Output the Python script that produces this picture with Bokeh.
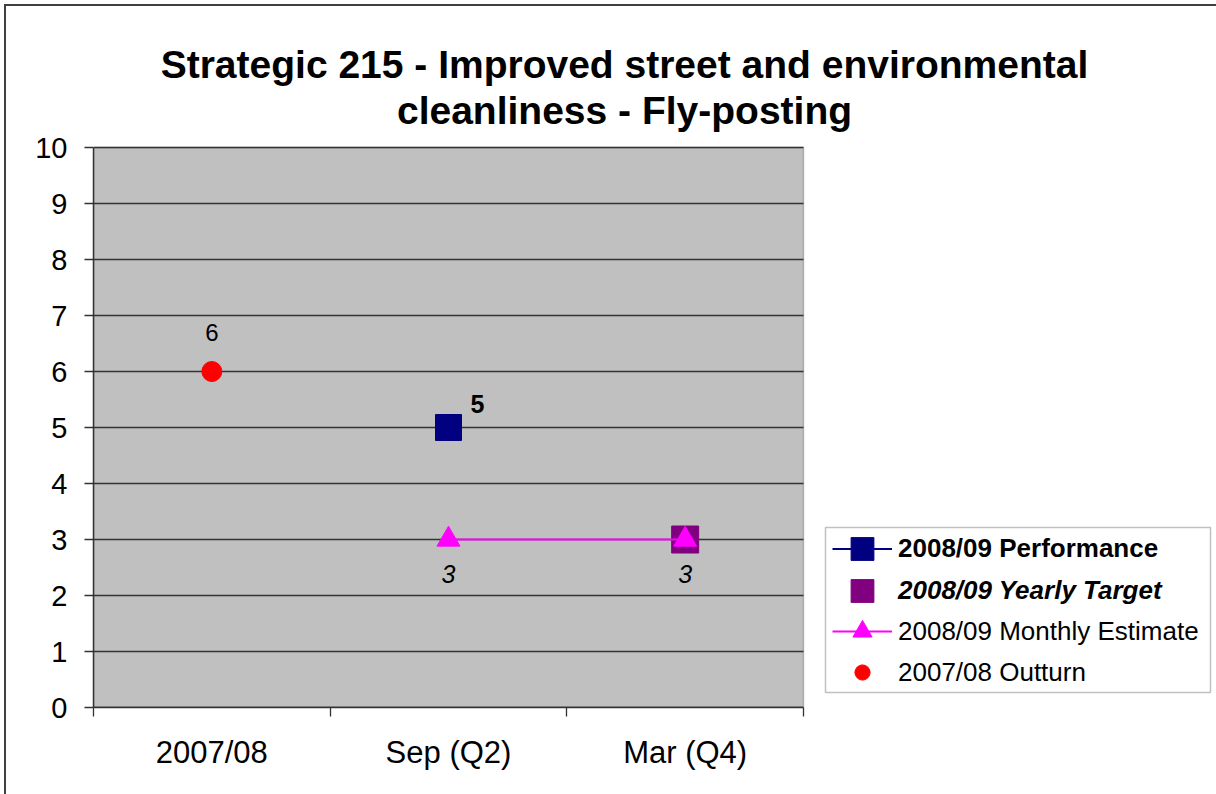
import numpy as np
from bokeh.plotting import figure
from bokeh.models import (Range1d, FixedTicker, Legend, LegendItem, Label,
                          BoxAnnotation, ColumnDataSource)
from bokeh.core.properties import value
from bokeh.embed import file_html
from bokeh.resources import INLINE

# ---------------- data ----------------
categories = ["2007/08", "Sep (Q2)", "Mar (Q4)"]
performance = [np.nan, 5, np.nan]
yearly_target = [np.nan, np.nan, 3]
monthly_estimate = [np.nan, 3, 3]
outturn = [6, np.nan, np.nan]
y_ticks = list(range(0, 11))
series_names = ["2008/09 Performance", "2008/09 Yearly Target",
                "2008/09 Monthly Estimate", "2007/08 Outturn"]
title_lines = ["Strategic 215 - Improved street and environmental",
               "cleanliness - Fly-posting"]

FONT = "Liberation Sans"

# ---------------- layout constants (screen px) ----------------
W, H = 1216, 794
PL, PR, PT, PB = 93, 803, 147, 707      # plot area edges
XMAX, YMAX = len(categories), 10
KX = XMAX / (PR - PL)                   # data per px
KY = YMAX / (PB - PT)


def sx(px):   # screen px -> data x
    return (px - PL) * KX


def sy(py):   # screen py -> data y
    return (PB - py) * KY


xpos = [i + 0.5 for i in range(len(categories))]

p = figure(width=W, height=H,
           x_range=Range1d(0, sx(W)), y_range=Range1d(0, sy(0)),
           output_backend="svg", toolbar_location=None,
           min_border_left=PL, min_border_right=0,
           min_border_top=0, min_border_bottom=H - PB)
p.border_fill_alpha = 0
p.background_fill_alpha = 0
p.outline_line_color = None
p.styles = {"background-color": "white",
            "box-shadow": "inset 4px 4px 0 0 white, inset 6px 6px 0 0 #404040"}
p.xgrid.visible = False
p.ygrid.visible = False

# plot area
p.add_layout(BoxAnnotation(left=0, right=XMAX, bottom=0, top=YMAX,
                           fill_color="#C0C0C0", fill_alpha=1.0,
                           line_color="#404040", line_width=1.5, level="underlay"))
grid_src = ColumnDataSource(dict(x0=[0] * len(y_ticks), x1=[XMAX] * len(y_ticks),
                                 y=y_ticks))
p.segment(x0="x0", x1="x1", y0="y", y1="y", source=grid_src,
          line_color="#333333", line_width=1.3)

# x axis
p.xaxis.bounds = (0, XMAX)
p.xaxis.ticker = FixedTicker(ticks=xpos, minor_ticks=list(range(len(categories) + 1)))
p.xaxis.major_label_overrides = {x: c for x, c in zip(xpos, categories)}
p.xaxis.major_tick_line_color = None
p.xaxis.major_tick_out = 9
p.xaxis.major_tick_in = 0
p.xaxis.minor_tick_line_color = "#333333"
p.xaxis.minor_tick_out = 9
p.xaxis.minor_tick_in = 0
p.xaxis.minor_tick_line_width = 1.3
p.xaxis.axis_line_color = "#333333"
p.xaxis.axis_line_width = 1.5
p.xaxis.major_label_text_font = FONT
p.xaxis.major_label_text_font_size = "31px"
p.xaxis.major_label_text_color = "black"
p.xaxis.major_label_standoff = 18

# y axis
p.yaxis.bounds = (0, YMAX)
p.yaxis.ticker = FixedTicker(ticks=y_ticks)
p.yaxis.minor_tick_line_color = None
p.yaxis.major_tick_out = 9
p.yaxis.major_tick_in = 0
p.yaxis.major_tick_line_color = "#333333"
p.yaxis.major_tick_line_width = 1.3
p.yaxis.axis_line_color = "#333333"
p.yaxis.axis_line_width = 1.5
p.yaxis.major_label_text_font = FONT
p.yaxis.major_label_text_font_size = "29px"
p.yaxis.major_label_text_color = "black"
p.yaxis.major_label_standoff = 17


def lbl(vals):
    return ["" if np.isnan(v) else f"{v:g}" for v in vals]


src = ColumnDataSource(dict(x=xpos, perf=performance, target=yearly_target,
                            est=monthly_estimate, out=outturn,
                            perf_lbl=lbl(performance), est_lbl=lbl(monthly_estimate),
                            out_lbl=lbl(outturn)))

# series
r_perf_line = p.line("x", "perf", source=src, line_color="#000080", line_width=2)
r_perf = p.scatter("x", "perf", source=src, marker="square", size=26,
                   fill_color="#000080", line_color="#000080")
r_target = p.scatter("x", "target", source=src, marker="square", size=27,
                     fill_color="#800080", line_color="#800080")
r_est_line = p.line("x", "est", source=src, line_color="#FF00FF", line_width=2)
r_est = p.scatter("x", "est", source=src, marker="triangle", size=23,
                  fill_color="#FF00FF", line_color="#FF00FF")
r_out = p.scatter("x", "out", source=src, marker="circle", size=20,
                  fill_color="#FF0000", line_color="#FF0000")

# data labels
p.text("x", "out", text="out_lbl", source=src, text_font=value(FONT),
       text_font_size="24px", text_align="center", text_baseline="alphabetic",
       y_offset=-39, text_color="black")
p.text("x", "perf", text="perf_lbl", source=src, text_font=value(FONT),
       text_font_size="25px", text_font_style="bold", text_align="left",
       text_baseline="alphabetic", x_offset=22, y_offset=-24, text_color="black")
p.text("x", "est", text="est_lbl", source=src, text_font=value(FONT),
       text_font_size="25px", text_font_style="italic", text_align="center",
       text_baseline="alphabetic", y_offset=34, text_color="black")

# title
for line, base in zip(title_lines, [64, 110]):
    p.add_layout(Label(x=sx(624), y=sy(base), text=line, text_font=FONT,
                       text_font_size="39px", text_font_style="bold",
                       text_align="center", text_baseline="alphabetic",
                       text_color="black"))

# legend frame
p.add_layout(BoxAnnotation(left=sx(825), right=sx(1210), top=sy(527), bottom=sy(692),
                           fill_color="white", fill_alpha=1.0,
                           line_color="#333333", line_width=1.5, level="annotation"))

# legend rows (separate legends so each label keeps its own font style)
rows = [
    (series_names[0], [r_perf_line, r_perf], 548, 57, "bold"),
    (series_names[1], [r_target], 590, 57, "bold italic"),
    (series_names[2], [r_est_line, r_est], 631, 48, "normal"),
    (series_names[3], [r_out], 672, 38, "normal"),
]
for name, rends, cy, gh, style in rows:
    lg = Legend(items=[LegendItem(label=name, renderers=rends)],
                location=(832 - PL, PB - (cy + gh / 2)),
                glyph_width=60, glyph_height=gh, label_height=gh,
                label_standoff=6, padding=0, margin=0, spacing=0,
                border_line_alpha=0, background_fill_alpha=0,
                label_text_font=FONT, label_text_font_size="26px",
                label_text_font_style=style, label_text_color="black")
    p.add_layout(lg, "center")

open("out.html", "w").write(file_html(p, INLINE))
